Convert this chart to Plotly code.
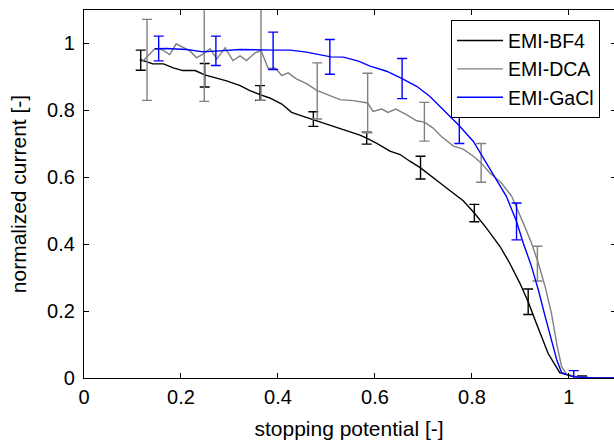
import plotly.graph_objects as go

# ---- data ----
bf4_x = [0.115, 0.142, 0.164, 0.184, 0.204, 0.229, 0.249, 0.266, 0.294, 0.322, 0.342, 0.363,
         0.383, 0.408, 0.428, 0.452, 0.473, 0.507, 0.538, 0.569, 0.583, 0.603, 0.631, 0.652,
         0.672, 0.694, 0.737, 0.762, 0.782, 0.805, 0.830, 0.858, 0.878, 0.899, 0.916, 0.933,
         0.957, 0.981, 1.009, 1.05, 1.1]
bf4_y = [0.952, 0.939, 0.939, 0.927, 0.919, 0.919, 0.906, 0.899, 0.888, 0.874, 0.859, 0.847,
         0.837, 0.819, 0.794, 0.782, 0.772, 0.757, 0.743, 0.726, 0.717, 0.702, 0.678, 0.668,
         0.648, 0.628, 0.580, 0.552, 0.530, 0.493, 0.448, 0.393, 0.343, 0.283, 0.228, 0.163,
         0.074, 0.016, 0.004, 0.0, 0.0]
bf4_ex = [0.117, 0.249, 0.363, 0.473, 0.583, 0.694, 0.805, 0.916, 1.027]
bf4_ey = [0.950, 0.905, 0.852, 0.774, 0.717, 0.629, 0.493, 0.228, 0.002]
bf4_err = [0.030, 0.035, 0.022, 0.022, 0.018, 0.034, 0.026, 0.038, 0.004]

dca_x = [0.120, 0.146, 0.160, 0.177, 0.190, 0.205, 0.219, 0.232, 0.246, 0.260, 0.274, 0.291,
         0.307, 0.322, 0.335, 0.353, 0.365, 0.380, 0.394, 0.408, 0.421, 0.438, 0.459, 0.480,
         0.504, 0.528, 0.555, 0.585, 0.596, 0.614, 0.627, 0.643, 0.665, 0.686, 0.702, 0.720,
         0.737, 0.762, 0.782, 0.803, 0.819, 0.837, 0.861, 0.882, 0.906, 0.923, 0.937, 0.951,
         0.964, 0.976, 0.985, 0.995, 1.016, 1.05, 1.1]
dca_y = [0.945, 0.984, 0.982, 0.967, 0.999, 0.987, 0.977, 0.957, 0.969, 0.984, 0.954, 0.987,
         0.949, 0.963, 0.949, 0.972, 0.979, 0.925, 0.927, 0.904, 0.912, 0.894, 0.880, 0.860,
         0.847, 0.832, 0.829, 0.822, 0.797, 0.804, 0.794, 0.804, 0.787, 0.769, 0.765, 0.747,
         0.722, 0.693, 0.684, 0.663, 0.643, 0.613, 0.583, 0.543, 0.463, 0.403, 0.343, 0.273,
         0.193, 0.094, 0.034, 0.011, 0.004, 0.0, 0.0]
dca_ex = [0.130, 0.248, 0.365, 0.481, 0.585, 0.702, 0.819, 0.935]
dca_ey = [0.951, 0.965, 0.975, 0.858, 0.822, 0.766, 0.643, 0.342]
dca_err = [0.121, 0.138, 0.145, 0.084, 0.089, 0.058, 0.058, 0.052]

gacl_x = [0.146, 0.170, 0.212, 0.246, 0.272, 0.322, 0.390, 0.425, 0.459, 0.487, 0.509, 0.535,
          0.566, 0.590, 0.624, 0.656, 0.686, 0.713, 0.741, 0.774, 0.803, 0.830, 0.858, 0.871,
          0.892, 0.906, 0.923, 0.937, 0.951, 0.964, 0.975, 0.985, 1.009, 1.05, 1.1]
gacl_y = [0.984, 0.985, 0.982, 0.975, 0.977, 0.982, 0.980, 0.980, 0.974, 0.967, 0.960, 0.959,
          0.947, 0.932, 0.917, 0.895, 0.872, 0.842, 0.802, 0.754, 0.707, 0.643, 0.573, 0.543,
          0.468, 0.403, 0.333, 0.263, 0.184, 0.114, 0.054, 0.016, 0.004, 0.0, 0.0]
gacl_ex = [0.154, 0.272, 0.390, 0.507, 0.656, 0.774, 0.892, 1.010]
gacl_ey = [0.985, 0.978, 0.978, 0.960, 0.895, 0.754, 0.468, 0.005]
gacl_err = [0.037, 0.044, 0.056, 0.052, 0.060, 0.053, 0.055, 0.017]

x_ticks = [0, 0.2, 0.4, 0.6, 0.8, 1]
x_labels = ["0", "0.2", "0.4", "0.6", "0.8", "1"]
y_ticks = [0, 0.2, 0.4, 0.6, 0.8, 1]
y_labels = ["0", "0.2", "0.4", "0.6", "0.8", "1"]

FONT = "Liberation Sans, Arial, Helvetica, sans-serif"
FS_TICK = 20
FS_TITLE = 21
FS_LEG = 19.5

series = [
    ("EMI-BF4", "#000000", bf4_x, bf4_y, bf4_ex, bf4_ey, bf4_err),
    ("EMI-DCA", "#808080", dca_x, dca_y, dca_ex, dca_ey, dca_err),
    ("EMI-GaCl", "#0000ff", gacl_x, gacl_y, gacl_ex, gacl_ey, gacl_err),
]

fig = go.Figure()
for name, col, lx, ly, ex, ey, err in series:
    fig.add_trace(go.Scatter(x=lx, y=ly, mode="lines", name=name,
                             line=dict(color=col, width=1.4)))
    fig.add_trace(go.Scatter(x=ex, y=ey, mode="markers", showlegend=False,
                             marker=dict(size=1, color=col),
                             error_y=dict(type="data", array=err, visible=True,
                                          color=col, thickness=1.4, width=5)))

# dummy trace to carry right-side ticks
fig.add_trace(go.Scatter(x=[], y=[], yaxis="y2", showlegend=False))

fig.update_layout(
    width=614, height=443,
    margin=dict(l=84, r=0, t=10, b=65),
    paper_bgcolor="white", plot_bgcolor="white",
    font=dict(family=FONT, size=FS_TICK, color="black"),
    showlegend=True,
    legend=dict(x=0.6925, y=0.972, xanchor="left", yanchor="top",
                bgcolor="white", bordercolor="black", borderwidth=1,
                font=dict(family=FONT, size=FS_LEG, color="black"),
                tracegroupgap=0, itemwidth=46),
    xaxis=dict(range=[0, 1.093], tickvals=x_ticks, ticktext=x_labels,
               ticks="inside", ticklen=5, tickcolor="black", tickwidth=1,
               showline=True, linecolor="black", linewidth=1.3, mirror="ticks",
               showgrid=False, zeroline=False, ticklabelstandoff=1,
               title=dict(text="stopping potential [-]", standoff=14,
                          font=dict(family=FONT, size=FS_TITLE))),
    yaxis=dict(range=[0, 1.1], tickvals=y_ticks, ticktext=y_labels,
               ticks="inside", ticklen=5, tickcolor="black", tickwidth=1,
               showline=True, linecolor="black", linewidth=1.3, mirror=False,
               showgrid=False, zeroline=False, ticklabelstandoff=4,
               title=dict(text="normalized current [-]", standoff=14,
                          font=dict(family=FONT, size=FS_TITLE))),
    yaxis2=dict(range=[0, 1.1], overlaying="y", side="right", anchor="x",
                tickvals=y_ticks, ticks="inside", ticklen=3, tickcolor="black",
                showticklabels=False, showline=False, showgrid=False, zeroline=False),
)

fig.write_html("out.html")
